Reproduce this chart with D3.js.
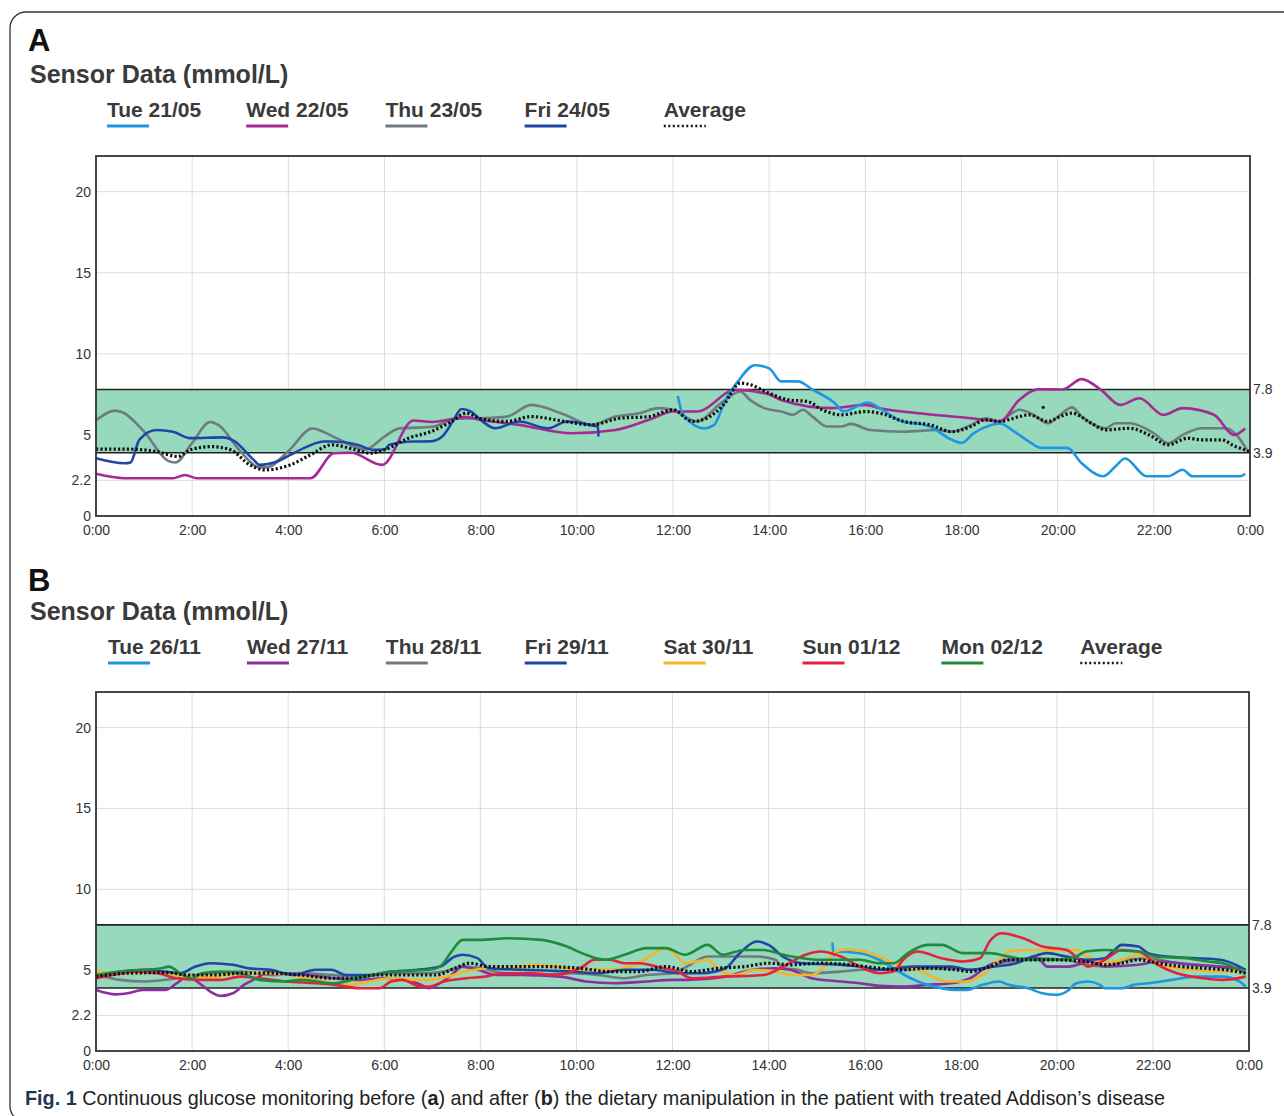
<!DOCTYPE html>
<html>
<head>
<meta charset="utf-8">
<script src="https://d3js.org/d3.v7.min.js"></script>
<style>
  body { margin: 0; background: #fff; }
  svg text { font-family: "Liberation Sans", Arial, sans-serif; }
  svg text.caption { font-size: 19.8px; }
</style>
</head>
<body>
<div id="fig"></div>
<script>
// ---------- data ----------
// hours of day on x, mmol/L on y
var xTicks = d3.range(0, 25, 2);
var yTicks = [0, 2.2, 5, 10, 15, 20];
var rangeTicks = [3.9, 7.8];

var legendA = ["Tue 21/05", "Wed 22/05", "Thu 23/05", "Fri 24/05", "Average"];
var legendB = ["Tue 26/11", "Wed 27/11", "Thu 28/11", "Fri 29/11", "Sat 30/11", "Sun 01/12", "Mon 02/12", "Average"];

// panel A
var tue2105 = [[12.1,7.4],[12.2,6.3],[12.65,5.4],[12.85,5.6],[13.1,7.2],[13.35,8.3],[13.7,9.3],[14.0,9.1],[14.25,8.3],[14.6,8.3],[14.9,7.8],[15.35,7.0],[15.55,6.45],[16.05,7.0],[16.3,6.65],[16.7,5.9],[17.35,5.5],[17.8,4.7],[18.0,4.5],[18.25,5.1],[18.6,5.6],[18.8,5.7],[19.1,5.2],[19.4,4.6],[19.65,4.2],[20.2,4.2],[20.5,3.25],[20.95,2.45],[21.2,3.05],[21.4,3.55],[21.85,2.45],[22.3,2.45],[22.6,2.85],[22.8,2.45],[23.8,2.45],[23.9,2.6]];
var wed2205 = [[0,2.6],[0.6,2.33],[1.6,2.33],[1.85,2.53],[2.1,2.33],[4.46,2.33],[4.95,3.87],[5.3,3.9],[5.95,3.15],[6.6,5.89],[7.0,5.8],[7.7,6.1],[8.0,5.93],[8.8,5.62],[9.9,5.1],[10.8,5.3],[11.5,5.93],[12.0,6.44],[12.5,6.44],[13.3,7.78],[14.0,7.5],[14.25,7.16],[15.3,6.65],[16.0,6.85],[16.3,6.65],[17.1,6.34],[18.2,6.03],[18.8,5.83],[19.2,7.16],[19.6,7.82],[20.1,7.8],[20.5,8.44],[20.9,7.78],[21.3,6.85],[21.7,7.26],[22.2,6.24],[22.6,6.65],[23.25,6.24],[23.67,5.0],[23.9,5.4]];
var thu2305 = [[0,5.9],[0.4,6.5],[0.55,6.4],[1.0,5.2],[1.5,3.4],[1.65,3.3],[2.0,4.5],[2.37,5.8],[2.55,5.6],[3.0,4.0],[3.4,3.0],[3.55,3.0],[4.0,4.0],[4.5,5.4],[5.0,4.8],[5.6,4.1],[6.0,4.9],[6.3,5.4],[7.0,5.5],[7.5,6.0],[8.0,6.03],[8.55,6.13],[9.05,6.85],[9.75,6.24],[10.3,5.62],[10.8,6.13],[11.3,6.34],[11.7,6.65],[12.0,6.55],[12.3,6.03],[12.5,5.83],[13.0,6.96],[13.4,7.68],[13.6,7.16],[13.9,6.65],[14.25,6.44],[14.5,6.24],[14.7,6.55],[14.9,6.13],[15.2,5.52],[15.5,5.52],[15.7,5.68],[16.1,5.3],[16.8,5.2],[17.5,5.3],[17.8,5.2],[18.2,5.62],[18.5,6.03],[18.8,5.83],[19.0,6.24],[19.2,6.55],[19.5,6.24],[19.8,5.72],[20.05,6.24],[20.3,6.7],[20.5,6.13],[21.0,5.41],[21.2,5.72],[21.5,5.72],[22.0,5.1],[22.3,4.49],[22.6,5.0],[23.0,5.41],[23.5,5.41],[23.75,4.9],[23.95,4.0]];
var fri2405 = [[0,3.56],[0.6,3.25],[0.72,3.3],[0.9,4.7],[1.26,5.3],[1.6,5.2],[1.96,4.8],[2.65,4.85],[2.86,4.65],[3.28,3.46],[3.4,3.15],[3.76,3.36],[4.04,3.77],[4.39,4.28],[4.74,4.59],[4.9,4.59],[5.43,4.39],[5.78,4.08],[6.0,4.1],[6.1,4.39],[6.54,4.59],[6.96,4.6],[7.2,4.9],[7.44,5.93],[7.6,6.6],[7.8,6.44],[8.0,5.93],[8.3,5.41],[8.8,5.83],[9.4,5.41],[9.8,5.83],[10.3,5.6],[10.44,5.5],[10.45,4.9]];
var avgA = [[0,4.12],[0.7,4.12],[1.26,3.97],[1.7,3.67],[1.96,4.08],[2.4,4.28],[2.8,4.08],[3.2,3.15],[3.5,2.84],[4.04,3.15],[4.46,3.77],[4.9,4.39],[5.4,4.08],[5.7,3.87],[6.0,4.08],[6.5,4.8],[6.96,5.2],[7.4,5.83],[7.7,6.34],[8.0,6.0],[8.55,5.83],[9.05,6.13],[9.75,5.83],[10.3,5.62],[10.9,6.03],[11.5,6.13],[12.0,6.55],[12.4,5.83],[12.7,6.03],[13.05,6.85],[13.4,8.2],[13.6,8.1],[14.0,7.57],[14.4,7.16],[14.8,7.06],[15.1,6.55],[15.5,6.24],[16.0,6.44],[16.3,6.34],[16.8,5.83],[17.35,5.62],[17.8,5.2],[18.2,5.52],[18.5,5.93],[18.8,5.83],[19.2,6.13],[19.4,6.24],[19.8,5.83],[20.05,6.13],[20.3,6.34],[20.7,5.72],[21.0,5.31],[21.5,5.41],[21.9,5.0],[22.3,4.39],[22.7,4.8],[23.0,4.7],[23.4,4.7],[23.7,4.28],[24.0,3.97]];
var strayA = [[19.7,6.7]];

// panel B
var tue2611 = [[15.33,6.7],[15.36,5.9],[15.4,6.15],[15.9,6.05],[16.3,5.64],[16.65,5.02],[16.96,4.5],[17.3,4.09],[17.6,3.88],[17.9,3.77],[18.1,3.77],[18.45,4.09],[18.8,4.3],[19.0,4.09],[19.4,3.88],[19.7,3.57],[20.0,3.47],[20.25,3.77],[20.4,4.19],[20.65,4.3],[20.9,4.09],[21.0,3.88],[21.35,3.88],[21.6,4.09],[21.9,4.19],[22.4,4.4],[22.9,4.6],[23.45,4.6],[23.8,4.3],[23.93,3.98]];
var wed2711 = [[0,3.77],[0.42,3.5],[0.66,3.57],[0.97,3.77],[1.44,3.77],[1.68,4.19],[1.9,4.6],[2.15,4.19],[2.38,3.67],[2.6,3.41],[2.85,3.57],[3.08,4.09],[3.4,4.6],[3.55,4.91],[3.95,4.81],[4.4,4.7],[4.96,4.5],[5.5,4.4],[5.98,4.5],[6.45,4.4],[6.77,4.09],[6.92,3.88],[7.16,4.19],[7.4,4.7],[7.63,5.22],[7.94,5.02],[8.33,4.7],[8.88,4.7],[9.66,4.6],[10.2,4.3],[10.8,4.19],[11.46,4.3],[12.0,4.4],[12.3,4.4],[13.1,4.6],[13.67,5.02],[14.14,5.12],[14.45,5.02],[14.9,4.5],[15.5,4.3],[15.9,4.19],[16.3,4.03],[16.8,3.98],[17.3,4.09],[17.8,4.19],[18.2,4.5],[18.6,5.33],[19.0,5.64],[19.6,5.74],[19.8,5.22],[20.25,5.22],[20.7,5.53],[21.0,5.22],[21.7,5.33],[22.1,5.53],[22.9,5.33],[23.4,5.22],[23.93,5.02]];
var thu2811 = [[0,4.7],[0.5,4.4],[1.0,4.3],[1.44,4.4],[1.9,4.6],[2.38,4.81],[3.0,4.91],[3.63,4.7],[4.26,4.81],[4.9,4.7],[5.5,4.6],[6.14,4.81],[6.77,4.81],[7.24,4.91],[7.63,5.22],[8.0,5.12],[8.5,4.81],[9.1,4.7],[9.9,4.81],[10.45,4.7],[11.0,4.5],[11.46,4.7],[12.0,4.81],[12.3,5.22],[12.73,5.84],[13.75,5.84],[14.14,5.64],[14.3,5.12],[14.6,5.02],[14.9,4.81],[15.5,4.91],[16.0,5.02],[16.65,5.02],[17.4,5.12],[18.2,5.02],[19.0,5.53],[19.6,5.74],[20.2,5.64],[20.6,5.33],[21.0,5.22],[21.5,5.64],[21.9,5.74],[22.5,5.43],[23.3,5.22],[23.93,5.02]];
var fri2911 = [[0,4.6],[0.5,4.91],[1.05,5.02],[1.44,4.91],[1.75,4.81],[2.07,5.22],[2.38,5.43],[2.85,5.33],[3.16,5.12],[3.63,5.02],[4.1,4.7],[4.57,5.02],[4.9,5.02],[5.2,4.7],[5.67,4.7],[6.14,4.91],[6.69,5.02],[7.16,5.22],[7.47,5.84],[7.63,5.95],[7.94,5.74],[8.17,5.12],[8.88,5.02],[9.9,4.91],[10.45,4.81],[11.0,5.02],[11.6,5.02],[12.1,4.81],[12.6,4.81],[13.1,5.12],[13.4,6.05],[13.75,6.77],[14.0,6.56],[14.3,5.84],[14.7,5.43],[15.5,5.33],[15.9,5.22],[16.3,5.02],[17.0,5.22],[17.8,5.22],[18.2,5.02],[18.7,5.22],[19.15,5.43],[19.5,5.84],[19.8,6.05],[20.2,5.84],[20.6,5.64],[21.0,5.74],[21.2,6.25],[21.35,6.56],[21.7,6.46],[21.9,6.05],[22.3,5.84],[22.9,5.74],[23.4,5.64],[23.8,5.22],[23.93,5.02]];
var sat3011 = [[0,4.91],[0.5,4.81],[1.05,4.91],[1.44,4.81],[1.9,4.6],[2.46,4.6],[3.0,4.81],[3.55,4.81],[4.0,4.7],[4.57,4.4],[5.2,4.09],[5.5,4.19],[6.14,4.5],[6.6,4.4],[6.92,4.4],[7.3,4.6],[7.7,4.91],[8.17,5.12],[8.64,5.12],[9.1,5.33],[9.58,5.22],[10.05,5.02],[10.5,5.02],[11.0,5.12],[11.4,5.64],[11.86,6.36],[12.0,6.15],[12.26,5.43],[12.73,5.64],[12.97,5.02],[13.3,4.7],[13.7,5.02],[14.14,4.91],[14.5,4.7],[14.9,4.7],[15.16,5.22],[15.4,6.15],[15.6,6.28],[16.0,6.15],[16.3,5.84],[16.6,5.43],[16.8,5.22],[17.1,5.02],[17.4,4.6],[17.75,4.3],[18.1,4.3],[18.45,4.7],[18.8,5.64],[19.0,6.15],[19.4,6.25],[20.4,6.25],[20.65,5.84],[21.0,5.43],[21.35,5.64],[21.7,5.95],[22.1,5.43],[22.5,5.12],[22.9,5.02],[23.4,4.91],[23.93,5.02]];
var sun0112 = [[0,4.5],[0.35,4.7],[0.8,4.91],[1.28,4.81],[1.68,4.5],[2.2,4.4],[2.6,4.4],[3.0,4.6],[3.4,4.5],[3.95,4.3],[4.57,4.19],[4.97,4.09],[5.5,3.88],[5.9,3.88],[6.14,4.3],[6.37,4.4],[6.77,3.98],[6.92,3.98],[7.24,4.3],[7.7,4.5],[8.1,4.6],[8.5,4.81],[9.1,4.81],[9.5,4.7],[9.8,4.81],[10.13,5.22],[10.37,5.64],[10.7,5.64],[11.0,5.43],[11.3,5.43],[11.8,5.12],[12.1,4.91],[12.4,4.5],[13.1,4.6],[13.9,4.7],[14.3,5.22],[14.77,5.95],[15.08,6.15],[15.5,5.84],[15.9,5.22],[16.3,4.81],[16.6,4.91],[16.8,5.64],[17.1,6.15],[17.6,5.74],[18.06,5.53],[18.4,5.74],[18.6,6.77],[18.84,7.28],[19.3,6.97],[19.7,6.46],[20.2,6.25],[20.4,5.84],[20.65,5.22],[21.0,5.64],[21.35,6.25],[21.7,6.15],[22.1,5.33],[22.5,4.81],[23.05,4.5],[23.45,4.4],[23.93,4.6]];
var mon0212 = [[0,4.7],[0.5,4.91],[1.0,5.02],[1.36,5.12],[1.52,5.22],[1.75,4.81],[2.0,4.5],[2.2,4.81],[2.6,4.91],[3.0,4.81],[3.4,4.4],[3.95,4.3],[4.26,4.4],[4.6,4.3],[4.9,4.19],[5.35,4.4],[5.75,4.7],[6.14,4.91],[6.92,5.02],[7.16,5.22],[7.4,6.15],[7.63,6.87],[8.0,6.87],[8.57,6.97],[9.27,6.87],[9.8,6.46],[10.2,5.95],[10.6,5.64],[11.0,5.95],[11.46,6.36],[11.86,6.36],[12.26,5.95],[12.73,6.56],[13.05,5.95],[13.5,6.25],[13.9,6.25],[14.3,5.95],[14.7,5.74],[15.08,5.64],[15.9,5.64],[16.3,5.43],[16.6,5.43],[16.9,6.05],[17.3,6.56],[17.6,6.56],[18.06,6.05],[18.6,6.05],[19.0,5.84],[19.4,5.64],[20.1,5.64],[20.4,5.84],[20.6,6.15],[21.0,6.25],[21.7,6.15],[22.05,5.84],[22.7,5.74],[23.15,5.53],[23.45,5.43],[23.93,4.81]];
var avgB = [[0,4.6],[0.66,4.81],[1.5,4.85],[1.9,4.7],[2.46,4.7],[3.0,4.81],[3.63,4.81],[4.26,4.7],[4.9,4.5],[5.35,4.5],[5.83,4.7],[6.5,4.7],[7.08,4.7],[7.47,5.12],[7.78,5.43],[8.17,5.22],[9.27,5.22],[10.05,5.12],[10.7,4.91],[11.3,4.91],[11.86,5.22],[12.4,4.91],[12.97,5.12],[13.5,5.22],[14.0,5.43],[14.45,5.33],[15.08,5.43],[15.7,5.33],[16.3,5.12],[16.8,5.02],[17.3,5.12],[17.9,5.02],[18.2,4.91],[18.6,5.22],[19.0,5.64],[19.8,5.64],[20.6,5.53],[21.0,5.33],[21.35,5.43],[21.7,5.64],[22.1,5.43],[22.6,5.22],[23.05,5.12],[23.5,5.02],[23.93,4.81]];

// ---------- setup ----------
var W = 1284, H = 1116;
var svg = d3.select("#fig").append("svg")
    .attr("width", W)
    .attr("height", H);

// outer frame
svg.append("rect")
    .attr("x", 10).attr("y", 12)
    .attr("width", 1300).attr("height", 1110)
    .attr("rx", 16)
    .attr("fill", "none")
    .attr("stroke", "#333")
    .attr("stroke-width", 1.3);

var clr = {
    ltblue: "#1e96e2", magenta: "#a52a94", purple: "#8b2fa0", gray: "#6e7b80",
    dkblue: "#1f45a6", orange: "#f6b327", red: "#e6213d", green: "#1f8b3b", avg: "#111"
};

function drawPanel(o) {
    var x = d3.scaleLinear().domain([0, 24]).range([o.left, o.right]);
    var y = d3.scaleLinear().domain([0, 22.2]).range([o.bottom, o.top]);
    var g = svg.append("g");

    // panel letter + title
    g.append("text").attr("x", 28).attr("y", o.letterY)
        .attr("font-size", 31).attr("font-weight", "bold").attr("fill", "#111")
        .text(o.letter);
    g.append("text").attr("x", 30).attr("y", o.titleY)
        .attr("font-size", 25).attr("font-weight", "bold").attr("fill", "#3a3a3a")
        .text("Sensor Data (mmol/L)");

    // legend
    var leg = g.selectAll(".leg").data(o.series).join("g")
        .attr("transform", function(d, i) { return "translate(" + (o.legX + i * o.legStep) + "," + o.legY + ")"; });
    leg.append("text")
        .attr("font-size", 21).attr("font-weight", "bold").attr("fill", "#3a3a3a")
        .text(function(d) { return d.name; });
    leg.append("line")
        .attr("x1", 0).attr("x2", 42).attr("y1", 9).attr("y2", 9)
        .attr("stroke", function(d) { return d.color; })
        .attr("stroke-width", function(d) { return d.dotted ? 2.5 : 3; })
        .attr("stroke-dasharray", function(d) { return d.dotted ? "2,2.5" : null; });

    // grid
    g.selectAll(".vg").data(xTicks).join("line")
        .attr("x1", function(d) { return x(d); }).attr("x2", function(d) { return x(d); })
        .attr("y1", o.top).attr("y2", o.bottom)
        .attr("stroke", "#dcdcdc").attr("stroke-width", 1);
    g.selectAll(".hg").data(yTicks.slice(1)).join("line")
        .attr("x1", o.left).attr("x2", o.right)
        .attr("y1", function(d) { return y(d); }).attr("y2", function(d) { return y(d); })
        .attr("stroke", "#dcdcdc").attr("stroke-width", 1);

    // target band
    g.append("rect")
        .attr("x", x(0)).attr("width", x(24) - x(0))
        .attr("y", y(rangeTicks[1])).attr("height", y(rangeTicks[0]) - y(rangeTicks[1]))
        .attr("fill", "#96d9bc");
    g.selectAll(".bl").data(rangeTicks).join("line")
        .attr("x1", o.left).attr("x2", o.right)
        .attr("y1", function(d) { return y(d); }).attr("y2", function(d) { return y(d); })
        .attr("stroke", "#222").attr("stroke-width", 1.6);

    // series lines
    var line = d3.line()
        .x(function(d) { return x(d[0]); })
        .y(function(d) { return y(d[1]); })
        .curve(d3.curveMonotoneX);
    o.series.slice().sort(function(a, b) { return a.z - b.z; }).forEach(function(s) {
        g.append("path")
            .datum(s.data)
            .attr("fill", "none")
            .attr("stroke", s.color)
            .attr("stroke-width", s.dotted ? 3.2 : 2.6)
            .attr("stroke-dasharray", s.dotted ? "2.2,2.2" : null)
            .attr("stroke-linejoin", "round")
            .attr("d", line);
    });
    if (o.stray) {
        g.selectAll(".stray").data(o.stray).join("circle")
            .attr("cx", function(d) { return x(d[0]); })
            .attr("cy", function(d) { return y(d[1]); })
            .attr("r", 1.6).attr("fill", "#111");
    }

    // frame
    g.append("rect")
        .attr("x", o.left).attr("y", o.top)
        .attr("width", o.right - o.left).attr("height", o.bottom - o.top)
        .attr("fill", "none").attr("stroke", "#333").attr("stroke-width", 1.8);

    // axes
    var ax = g.append("g").attr("transform", "translate(0," + o.bottom + ")")
        .call(d3.axisBottom(x).tickValues(xTicks).tickSize(0).tickPadding(9)
            .tickFormat(function(d) { return (d % 24) + ":00"; }));
    var ay = g.append("g").attr("transform", "translate(" + o.left + ",0)")
        .call(d3.axisLeft(y).tickValues(yTicks).tickSize(0).tickPadding(5)
            .tickFormat(function(d) { return d; }));
    var ar = g.append("g").attr("transform", "translate(" + o.right + ",0)")
        .call(d3.axisRight(y).tickValues(rangeTicks).tickSize(0).tickPadding(3)
            .tickFormat(function(d) { return d.toFixed(1); }));
    [ax, ay, ar].forEach(function(a) {
        a.select(".domain").remove();
        a.selectAll("text")
            .attr("font-size", 14).attr("fill", "#333");
    });
}

drawPanel({
    letter: "A", letterY: 51, titleY: 83,
    legX: 107, legStep: 139.2, legY: 117,
    left: 96, right: 1250, top: 156, bottom: 516,
    series: [
        { name: legendA[0], color: clr.ltblue, data: tue2105, z: 4 },
        { name: legendA[1], color: clr.magenta, data: wed2205, z: 2 },
        { name: legendA[2], color: clr.gray, data: thu2305, z: 1 },
        { name: legendA[3], color: clr.dkblue, data: fri2405, z: 3 },
        { name: legendA[4], color: clr.avg, data: avgA, dotted: true, z: 9 }
    ],
    stray: strayA
});

drawPanel({
    letter: "B", letterY: 591, titleY: 620,
    legX: 108, legStep: 138.9, legY: 654,
    left: 96, right: 1249, top: 692, bottom: 1051,
    series: [
        { name: legendB[0], color: clr.ltblue, data: tue2611, z: 3 },
        { name: legendB[1], color: clr.purple, data: wed2711, z: 2 },
        { name: legendB[2], color: clr.gray, data: thu2811, z: 1 },
        { name: legendB[3], color: clr.dkblue, data: fri2911, z: 5 },
        { name: legendB[4], color: clr.orange, data: sat3011, z: 4 },
        { name: legendB[5], color: clr.red, data: sun0112, z: 6 },
        { name: legendB[6], color: clr.green, data: mon0212, z: 7 },
        { name: legendB[7], color: clr.avg, data: avgB, dotted: true, z: 9 }
    ]
});

// caption
var cap = svg.append("text")
    .attr("class", "caption")
    .attr("x", 25).attr("y", 1105)
    .attr("fill", "#222");
cap.append("tspan").attr("font-weight", "bold").attr("fill", "#1f3550").text("Fig. 1");
cap.append("tspan").text(" Continuous glucose monitoring before (");
cap.append("tspan").attr("font-weight", "bold").text("a");
cap.append("tspan").text(") and after (");
cap.append("tspan").attr("font-weight", "bold").text("b");
cap.append("tspan").text(") the dietary manipulation in the patient with treated Addison\u2019s disease");
</script>
</body>
</html>
